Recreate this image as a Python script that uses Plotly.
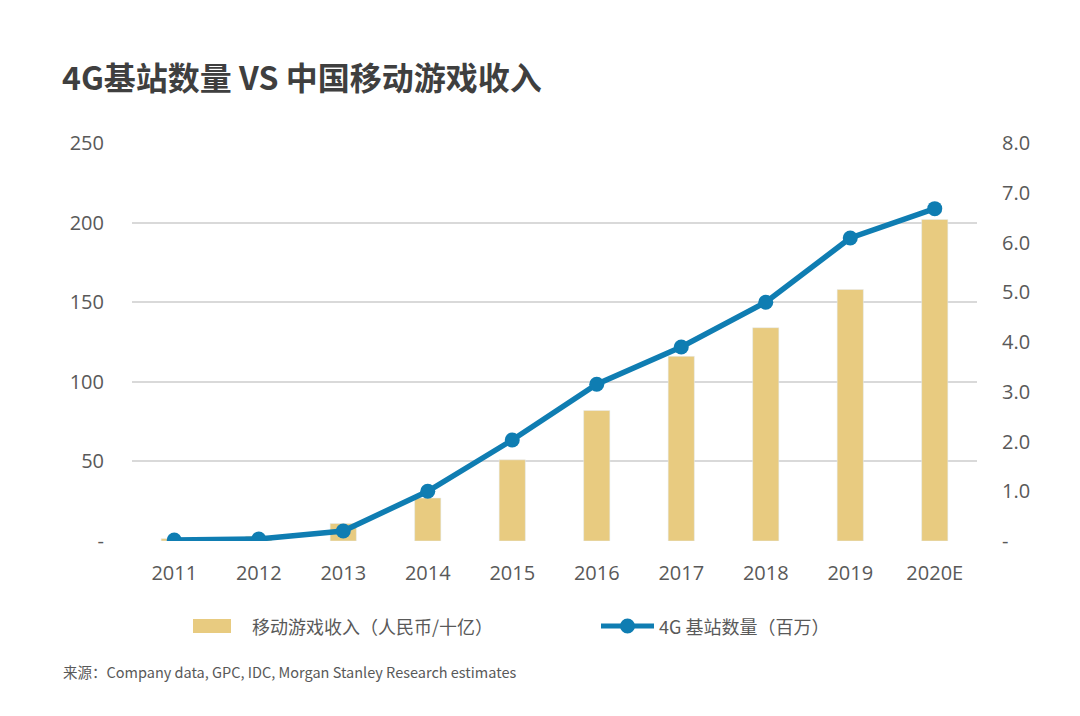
import plotly.graph_objects as go

years = ["2011", "2012", "2013", "2014", "2015", "2016", "2017", "2018", "2019", "2020E"]
revenue = [1.5, 3, 11, 27, 51, 82, 116, 134, 158, 202]
stations = [0.02, 0.04, 0.2, 1.0, 2.03, 3.15, 3.9, 4.8, 6.09, 6.68]

left_ticks = [0, 50, 100, 150, 200, 250]
left_text = ["-", "50", "100", "150", "200", "250"]
right_ticks = [0, 1, 2, 3, 4, 5, 6, 7, 8]
right_text = ["-", "1.0", "2.0", "3.0", "4.0", "5.0", "6.0", "7.0", "8.0"]

BAR = "#E8CB80"
LINE = "#0F7DB2"
FONT = "Noto Sans CJK SC"
TICKFONT = "Open Sans"
GREY = "#595959"

# page offset (body margin) compensation
W, H = 1072, 708
L, R, T, B = 124, 103, 135, 175
PW = W - L - R
PH = H - T - B

def px(x):  # page x -> paper
    return (x - 8 - L) / PW

def py(y):  # page y -> paper
    return (H - B - (y - 8)) / PH

fig = go.Figure()
fig.add_trace(go.Bar(x=years, y=revenue, marker_color=BAR, width=0.31,
                     name="移动游戏收入（人民币/十亿）", showlegend=False))
fig.add_trace(go.Scatter(x=years, y=stations, yaxis="y2", mode="lines+markers",
                         line=dict(color=LINE, width=5.5), marker=dict(size=15, color=LINE),
                         name="4G 基站数量（百万）", showlegend=False))

fig.update_layout(
    width=W, height=H,
    margin=dict(l=L, r=R, t=T, b=B, autoexpand=False),
    paper_bgcolor="white", plot_bgcolor="white",
    font=dict(family=FONT, color=GREY, size=18),
    xaxis=dict(range=[-0.5, 9.5], showgrid=False, showline=False, ticks="",
               ticklabelstandoff=18, automargin=False,
               tickfont=dict(size=20, color=GREY, family=TICKFONT)),
    yaxis=dict(range=[0, 250], tickvals=left_ticks, ticktext=left_text, automargin=False,
               showgrid=True, gridcolor="#D9D9D9", gridwidth=1.5, zeroline=False,
               ticklabelstandoff=27, tickfont=dict(size=20, color=GREY, family=TICKFONT)),
    yaxis2=dict(range=[0, 8], tickvals=right_ticks, ticktext=right_text, overlaying="y",
                side="right", showgrid=False, zeroline=False, ticklabelstandoff=24,
                automargin=False, tickfont=dict(size=20, color=GREY, family=TICKFONT)),
)

fig.add_annotation(text="<b>4G基站数量 VS 中国移动游戏收入</b>", xref="paper", yref="paper",
                   x=px(60), y=py(76), yanchor="middle", xanchor="left",
                   showarrow=False, font=dict(size=32, color="#3F3F3F", family=FONT))

# legend
fig.add_shape(type="rect", xref="paper", yref="paper", x0=px(193), x1=px(231),
              y0=py(633), y1=py(619), fillcolor=BAR, line_width=0)
fig.add_annotation(text="移动游戏收入（人民币/十亿）", xref="paper", yref="paper",
                   x=px(250), y=py(626), xanchor="left", yanchor="middle",
                   showarrow=False, font=dict(size=18, color=GREY, family=FONT))
fig.add_shape(type="line", xref="paper", yref="paper", x0=px(601), x1=px(654),
              y0=py(626), y1=py(626), line=dict(color=LINE, width=5))
fig.add_shape(type="circle", xref="paper", yref="paper",
              x0=px(620), x1=px(635), y0=py(633.5), y1=py(618.5),
              fillcolor=LINE, line_width=0)
fig.add_annotation(text="4G 基站数量（百万）", xref="paper", yref="paper",
                   x=px(657), y=py(626), xanchor="left", yanchor="middle",
                   showarrow=False, font=dict(size=18, color=GREY, family=FONT))

fig.add_annotation(text="来源：Company data, GPC, IDC, Morgan Stanley Research estimates",
                   xref="paper", yref="paper", x=px(61), y=py(671),
                   xanchor="left", yanchor="middle", showarrow=False,
                   font=dict(size=14.5, color=GREY, family=FONT))

fig.write_html("out.html")
